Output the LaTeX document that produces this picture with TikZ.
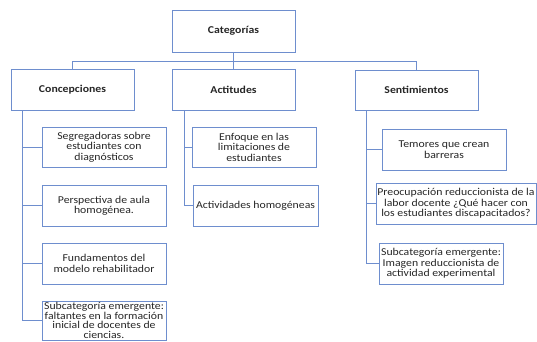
\documentclass[tikz,border=0pt]{standalone}
\usepackage{fontspec}
\setmainfont[FakeStretch=1.12]{Carlito}
\definecolor{boxblue}{RGB}{110,142,206}
\tikzset{
  box/.style={draw=boxblue,line width=1pt,align=center,inner xsep=1pt,inner ysep=0pt,
    text=black!85,font=\fontsize{10.5}{10.5}\selectfont},
  head/.style={box,minimum width=123pt,font=\fontsize{10.5}{10.5}\selectfont\bfseries},
  leaf/.style={box,minimum width=124pt,minimum height=40pt},
  link/.style={draw=boxblue,line width=1pt}
}

\begin{document}
\begin{tikzpicture}[x=1pt,y=-1pt]
  \useasboundingbox (0,0) rectangle (537,341);
  % categorias principales
  \node[head,minimum height=42pt] (cat) at (233.5,31) {Categorías};
  \node[head,minimum height=41pt] (con) at (72.5,89.5) {Concepciones};
  \node[head,minimum height=41pt] (act) at (233.5,89.5) {Actitudes};
  \node[head,minimum height=40pt] (sen) at (416.5,90) {Sentimientos};
  % concepciones
  \node[leaf] (con-1) at (104,147) {Segregadoras sobre\\estudiantes con\\diagnósticos};
  \node[leaf,minimum height=41pt] (con-2) at (104,205.5) {Perspectiva de aula\\homogénea.};
  \node[leaf,minimum height=41pt] (con-3) at (104,263.5) {Fundamentos del\\modelo rehabilitador};
  \node[leaf,minimum height=39pt,font=\fontsize{10.5}{9.6}\selectfont] (con-4) at (104,320.5) {Subcategoría emergente:\\faltantes en la formación\\inicial de docentes de\\ciencias.};
  % actitudes
  \node[leaf] (act-1) at (254,147) {Enfoque en las\\limitaciones de\\estudiantes};
  \node[leaf,minimum width=125pt,minimum height=41pt] (act-2) at (255.5,205.5) {Actividades homogéneas};
  % sentimientos
  \node[leaf,minimum height=41pt] (sen-1) at (444,149.5) {Temores que crean\\barreras};
  \node[leaf,minimum width=160pt,minimum height=41pt] (sen-2) at (456,203.5) {Preocupación reduccionista de la\\labor docente ¿Qué hacer con\\los estudiantes discapacitados?};
  \node[leaf,minimum height=41pt] (sen-3) at (441,263.5) {Subcategoría emergente:\\Imagen reduccionista de\\actividad experimental};

  \path[link]
    (cat.south) -- (act.north)
    (cat.south) -- ++(0,9) -| (con.north)
    (cat.south) -- ++(0,9) -| (sen.north);
  \foreach \i in {1,...,4}
    \path[link] ([xshift=12pt]con.south west) |- (con-\i.west);
  \foreach \i in {1,2}
    \path[link] ([xshift=13pt]act.south west) |- (act-\i.west);
  \foreach \i in {1,2,3}
    \path[link] ([xshift=12pt]sen.south west) |- (sen-\i.west);
\end{tikzpicture}
\end{document}
